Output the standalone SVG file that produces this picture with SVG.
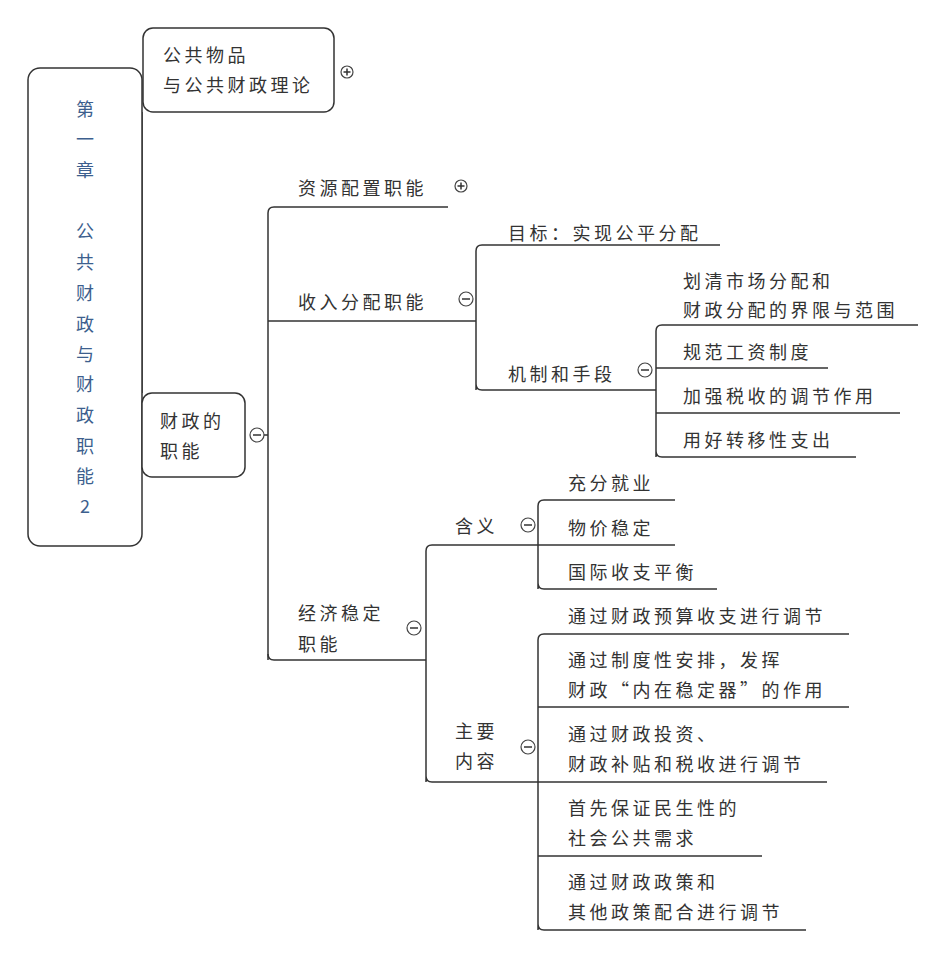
<svg xmlns="http://www.w3.org/2000/svg" width="950" height="957" viewBox="0 0 950 957">
<style>
text{font-family:"Noto Sans CJK SC","Liberation Sans",sans-serif;font-size:18px;letter-spacing:3.5px;fill:#333}
.ch{fill:#3d5f8e;text-anchor:middle;letter-spacing:0}
.box{fill:#fff;stroke:#333;stroke-width:1.5}
.ln{fill:none;stroke:#333;stroke-width:1.5}
.c{fill:#fff;stroke:#444;stroke-width:1.2}
</style>
<rect width="950" height="957" fill="#fff"/>
<g id="connectors" class="ln">
<path d="M142 112V393"/>
<path d="M264 435H268M268 660V213Q268 207 274 207H448M268 321H476M476 390V251Q476 245 482 245H720M476 384Q476 390 482 390H656M656 457V331Q656 325 662 325H918M656 368H828M656 413H900M656 451Q656 457 662 457H856"/>
<path d="M268 654Q268 660 274 660H426M426 782V551Q426 545 432 545H538M538 589V506Q538 500 544 500H675M538 545H675M538 583Q538 589 544 589H717M426 776Q426 782 432 782H538M538 930V640Q538 634 544 634H849M538 707H849M538 782H827M538 856H762M538 924Q538 930 544 930H806"/>
</g>
<g id="chapter"><rect class="box" x="28" y="68" width="114" height="478" rx="12"/>
<text class="ch" x="85" y="116">第</text><text class="ch" x="85" y="146">一</text><text class="ch" x="85" y="177">章</text>
<text class="ch" x="85" y="238">公</text><text class="ch" x="85" y="269">共</text><text class="ch" x="85" y="300">财</text><text class="ch" x="85" y="331">政</text><text class="ch" x="85" y="361">与</text><text class="ch" x="85" y="391">财</text><text class="ch" x="85" y="422">政</text><text class="ch" x="85" y="453">职</text><text class="ch" x="85" y="483">能</text><text class="ch" x="85" y="513">2</text></g>
<g id="n1"><rect class="box" x="143" y="28" width="191" height="84" rx="10"/><text x="163" y="62">公共物品</text><text x="163" y="92">与公共财政理论</text>
<circle class="c" cx="347" cy="72" r="6"/><path class="ln" d="M343.5 72H350.5M347 68.5V75.5" stroke-width="1"/></g>
<g id="n2"><rect class="box" x="142" y="393" width="103" height="84" rx="10"/><text x="160" y="428">财政的</text><text x="160" y="458">职能</text>
<circle class="c" cx="257" cy="435" r="7"/><path class="ln" d="M253 435H261" stroke-width="1"/></g>
<g id="n3"><text x="298" y="195">资源配置职能</text><circle class="c" cx="461" cy="186" r="6"/><path class="ln" d="M457.5 186H464.5M461 182.5V189.5" stroke-width="1"/></g>
<g id="n4"><text x="298" y="309">收入分配职能</text><circle class="c" cx="466" cy="299" r="7"/><path class="ln" d="M462 299H470" stroke-width="1"/></g>
<g id="n5"><text x="508" y="240">目标：实现公平分配</text></g>
<g id="n6"><text x="508" y="381">机制和手段</text><circle class="c" cx="645" cy="370" r="7"/><path class="ln" d="M641 370H649" stroke-width="1"/></g>
<g id="n7"><text x="683" y="288">划清市场分配和</text><text x="683" y="317">财政分配的界限与范围</text></g>
<g id="n8"><text x="683" y="359">规范工资制度</text></g>
<g id="n9"><text x="683" y="403">加强税收的调节作用</text></g>
<g id="n10"><text x="683" y="447">用好转移性支出</text></g>
<g id="n11"><text x="298" y="620">经济稳定</text><text x="298" y="651">职能</text><circle class="c" cx="414" cy="628" r="7"/><path class="ln" d="M410 628H418" stroke-width="1"/></g>
<g id="n12"><text x="455" y="533">含义</text><circle class="c" cx="528" cy="525" r="7"/><path class="ln" d="M524 525H532" stroke-width="1"/></g>
<g id="n13"><text x="568" y="490">充分就业</text></g>
<g id="n14"><text x="568" y="535">物价稳定</text></g>
<g id="n15"><text x="568" y="579">国际收支平衡</text></g>
<g id="n16"><text x="455" y="738">主要</text><text x="455" y="768">内容</text><circle class="c" cx="528" cy="747" r="7"/><path class="ln" d="M524 747H532" stroke-width="1"/></g>
<g id="n17"><text x="568" y="623">通过财政预算收支进行调节</text></g>
<g id="n18"><text x="568" y="667">通过制度性安排，发挥</text><text x="568" y="697">财政“内在稳定器”的作用</text></g>
<g id="n19"><text x="568" y="741">通过财政投资、</text><text x="568" y="771">财政补贴和税收进行调节</text></g>
<g id="n20"><text x="568" y="815">首先保证民生性的</text><text x="568" y="845">社会公共需求</text></g>
<g id="n21"><text x="568" y="889">通过财政政策和</text><text x="568" y="919">其他政策配合进行调节</text></g>
</svg>
